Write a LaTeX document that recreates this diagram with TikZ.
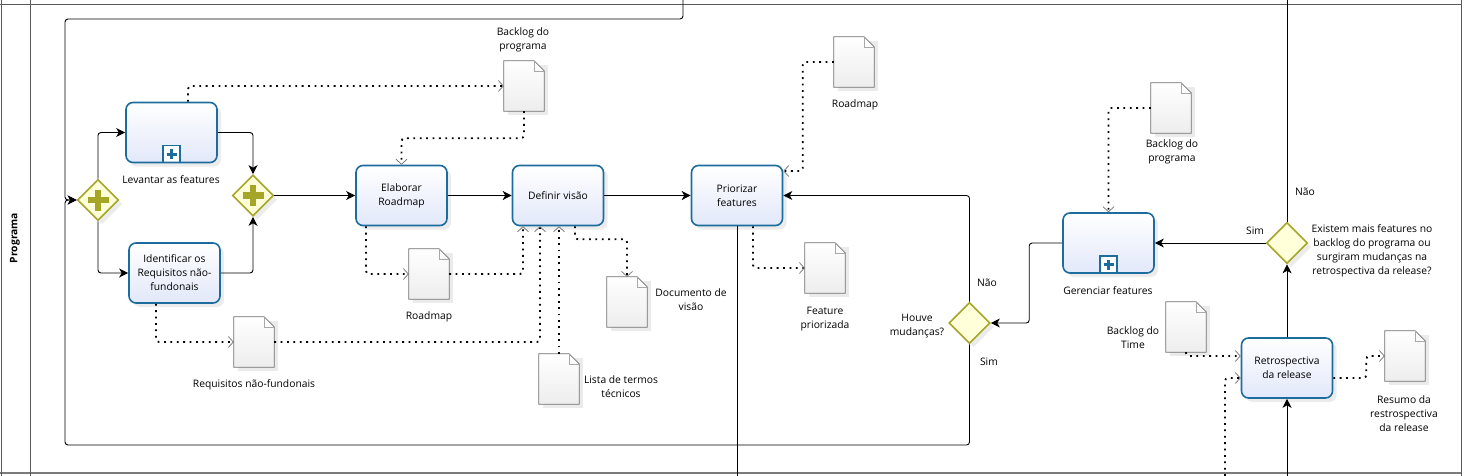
\documentclass[tikz,border=0pt]{standalone}
\usepackage{fontspec}
\setmainfont{Open Sans}
\usetikzlibrary{arrows.meta,shapes.geometric,shadows}

\definecolor{taskblue}{RGB}{28,108,158}
\definecolor{taskfill}{RGB}{226,232,250}
\definecolor{gateolive}{RGB}{165,165,40}
\definecolor{gatefill}{RGB}{255,255,218}
\definecolor{docgray}{RGB}{112,112,112}
\definecolor{poolgray}{RGB}{90,90,90}

\tikzset{
  task/.style={draw=taskblue, line width=1.6pt, rounded corners=7pt,
    minimum width=91pt, minimum height=60pt, align=center, inner sep=2pt,
    top color=white, bottom color=taskfill,
    drop shadow={shadow xshift=4pt, shadow yshift=-4pt, opacity=0.15}},
  subproc/.style={task, path picture={
    \draw[taskblue, sharp corners, line width=1.4pt, fill=white]
      ([xshift=-8.5pt]path picture bounding box.south) rectangle
      ([xshift=8.5pt,yshift=17pt]path picture bounding box.south);
    \draw[taskblue, line width=3pt]
      ([xshift=-5pt,yshift=8.5pt]path picture bounding box.south) --
      ([xshift=5pt,yshift=8.5pt]path picture bounding box.south);
    \draw[taskblue, line width=3pt]
      ([yshift=3.5pt]path picture bounding box.south) --
      ([yshift=13.5pt]path picture bounding box.south);}},
  gate/.style={diamond, draw=gateolive, line width=1.6pt, fill=gatefill,
    minimum width=41pt, minimum height=41pt, inner sep=0pt,
    drop shadow={shadow xshift=4pt, shadow yshift=-4pt, opacity=0.15}},
  pgate/.style={gate, path picture={
    \draw[gateolive, line width=6.5pt]
      ([xshift=-10.5pt]path picture bounding box.center) --
      ([xshift=10.5pt]path picture bounding box.center);
    \draw[gateolive, line width=6.5pt]
      ([yshift=-10.5pt]path picture bounding box.center) --
      ([yshift=10.5pt]path picture bounding box.center);}},
  docbox/.style={minimum width=40pt, minimum height=50pt, inner sep=0pt},
  docline/.style={draw=docgray, line width=0.8pt, top color=white, bottom color=black!7},
  flow/.style={line width=0.9pt, rounded corners=3pt,
    -{Stealth[length=9pt, width=9pt, inset=2.5pt]}},
  flowline/.style={line width=0.9pt, rounded corners=3pt},
  assoc/.style={line width=1.8pt, dash pattern=on 1.8pt off 4.6pt, rounded corners=3pt,
    -{Straight Barb[length=5pt, width=11pt, line width=0.7pt, color=docgray]}},
  lbl/.style={align=center, inner sep=1pt},
}

% data object: name, position
\newcommand{\dataobj}[2]{%
  \node[docbox] (#1) at (#2) {};
  \fill[black, opacity=0.08] ([xshift=4pt,yshift=-4pt]#1.south west) rectangle ([xshift=4pt,yshift=-4pt]#1.north east);
  \draw[docline] (#1.north west) -- ([xshift=-10pt]#1.north east) -- ([yshift=-10pt]#1.north east)
    -- (#1.south east) -- (#1.south west) -- cycle;
  \draw[docgray!60, line width=0.5pt] ([xshift=-10pt]#1.north east) |- ([yshift=-10pt]#1.north east);
}

\begin{document}
\begin{tikzpicture}[x=1pt, y=-1pt, font=\fontsize{10.3}{14}\selectfont]
\useasboundingbox (0,0) rectangle (1469,476);

%----------------------------
% Pool and lane
%----------------------------
\draw[poolgray, line width=1pt] (0,5) -- (1461,5);
\draw[poolgray!80, line width=2.5pt] (0,473) -- (1461,473);
\draw[poolgray, line width=1pt] (1,0) -- (1,476);
\draw[poolgray, line width=1pt] (30,0) -- (30,476);
\draw[poolgray, line width=1pt] (1461,0) -- (1461,476);
\node[rotate=90, font=\bfseries\fontsize{10.3}{14}\selectfont] (lane) at (15,238) {Programa};

% loose ends leaving the lane
\coordinate (topin) at (683,0);
\coordinate (gout) at (1287,0);
\coordinate (prioout) at (737,476);
\coordinate (retroin) at (1287,476);
\coordinate (associn) at (1225,476);

%----------------------------
% Gateways and activities
%----------------------------
\node[pgate] (g1) at (98,200) {};
\node[subproc] (lev) at (171.5,132.5) {};
\node[task] (ident) at (174.5,273) {Identificar os\\Requisitos não-\\fundonais};
\node[pgate] (g2) at (253,195.5) {};
\node[task] (elab) at (401.5,195.5) {Elaborar\\Roadmap};
\node[task] (def) at (558,195.5) {Definir visão};
\node[task] (prio) at (737,195.5) {Priorizar\\features};
\node[gate] (g3) at (969.5,323) {};
\node[subproc] (ger) at (1108.5,243) {};
\node[gate] (g4) at (1287,243) {};
\node[task] (retro) at (1287,368) {Retrospectiva\\da release};

% labels
\node[lbl] (levl) at (171,180) {Levantar as features};
\node[lbl] (gerl) at (1108,291) {Gerenciar features};
\node[lbl] (g3l) at (917,326) {Houve\\mudanças?};
\node[lbl] (g3no) at (987,283) {Não};
\node[lbl] (g3yes) at (989,362) {Sim};
\node[lbl] (g4yes) at (1255,231) {Sim};
\node[lbl] (g4no) at (1305,192) {Não};
\node[lbl] (g4l) at (1372,251) {Existem mais features no\\backlog do programa ou\\surgiram mudanças na\\retrospectiva da release?};

%----------------------------
% Data objects
%----------------------------
\dataobj{bk1}{524,86}
\dataobj{rm1}{429,274}
\dataobj{req}{254,342}
\dataobj{dv}{627,302}
\dataobj{lst}{559,379}
\dataobj{rm2}{854,62}
\dataobj{fp}{825,268}
\dataobj{bk2}{1171,108}
\dataobj{bt}{1186,327}
\dataobj{res}{1405,356}

\node[lbl] (bk1l) at (523,40) {Backlog do\\programa};
\node[lbl] (rm1l) at (429,317) {Roadmap};
\node[lbl] (reql) at (254,385) {Requisitos não-fundonais};
\node[lbl] (dvl) at (691,300) {Documento de\\visão};
\node[lbl] (lstl) at (621,387) {Lista de termos\\técnicos};
\node[lbl] (rm2l) at (855,105) {Roadmap};
\node[lbl] (fpl) at (825,319) {Feature\\priorizada};
\node[lbl] (bk2l) at (1172,152) {Backlog do\\programa};
\node[lbl] (btl) at (1133,338) {Backlog do\\Time};
\node[lbl] (resl) at (1404,414) {Resumo da\\restrospectiva\\da release};

%----------------------------
% Sequence flows
%----------------------------
\draw[flow] (topin) |- (65,19) |- (g1.west);
\draw[flow] (g3.south) |- (65,445) |- (g1.west);
\draw[flow] (g1.north) |- (lev.west);
\draw[flow] (g1.south) |- (ident.west);
\draw[flow] (lev.east) -| (g2.north);
\draw[flow] (ident.east) -| (g2.south);
\draw[flow] (g2.east) -- (elab.west);
\draw[flow] (elab.east) -- (def.west);
\draw[flow] (def.east) -- (prio.west);
\draw[flowline] (prio.south) -- (prioout);
\draw[flow] (g3.north) |- (prio.east);
\draw[flow] (ger.west) -- ++(-33,0) |- (g3.east);
\draw[flow] (g4.west) -- (ger.east);
\draw[flowline] (g4.north) -- (gout);
\draw[flow] (retro.north) -- (g4.south);
\draw[flow] (retroin) -- (retro.south);

%----------------------------
% Associations
%----------------------------
\draw[assoc] ([xshift=16.5pt]lev.north) |- (bk1.west);
\draw[assoc] (bk1.south) -- ++(0,27) -| (elab.north);
\draw[assoc] ([xshift=-35.5pt]elab.south) |- (rm1.west);
\draw[assoc] (rm1.east) -| ([xshift=-35pt]def.south);
\draw[assoc] (req.east) -| ([xshift=-18pt]def.south);
\draw[assoc] (lst.north) -- (lst.north |- def.south);
\draw[assoc] ([xshift=-18.5pt]ident.south) |- (req.west);
\draw[assoc] ([xshift=17pt]def.south) -- ++(0,13) -| (dv.north);
\draw[assoc] (rm2.west) -- ++(-31,0) |- ([yshift=24.5pt]prio.east);
\draw[assoc] ([xshift=16pt]prio.south) |- (fp.west);
\draw[assoc] (bk2.west) -| (ger.north);
\draw[assoc] (bt.south) |- ([yshift=12pt]retro.west);
\draw[assoc] (associn) |- ([yshift=-10pt]retro.west);
\draw[assoc] ([yshift=-10pt]retro.east) -- ++(33,0) |- (res.west);

\end{tikzpicture}
\end{document}
